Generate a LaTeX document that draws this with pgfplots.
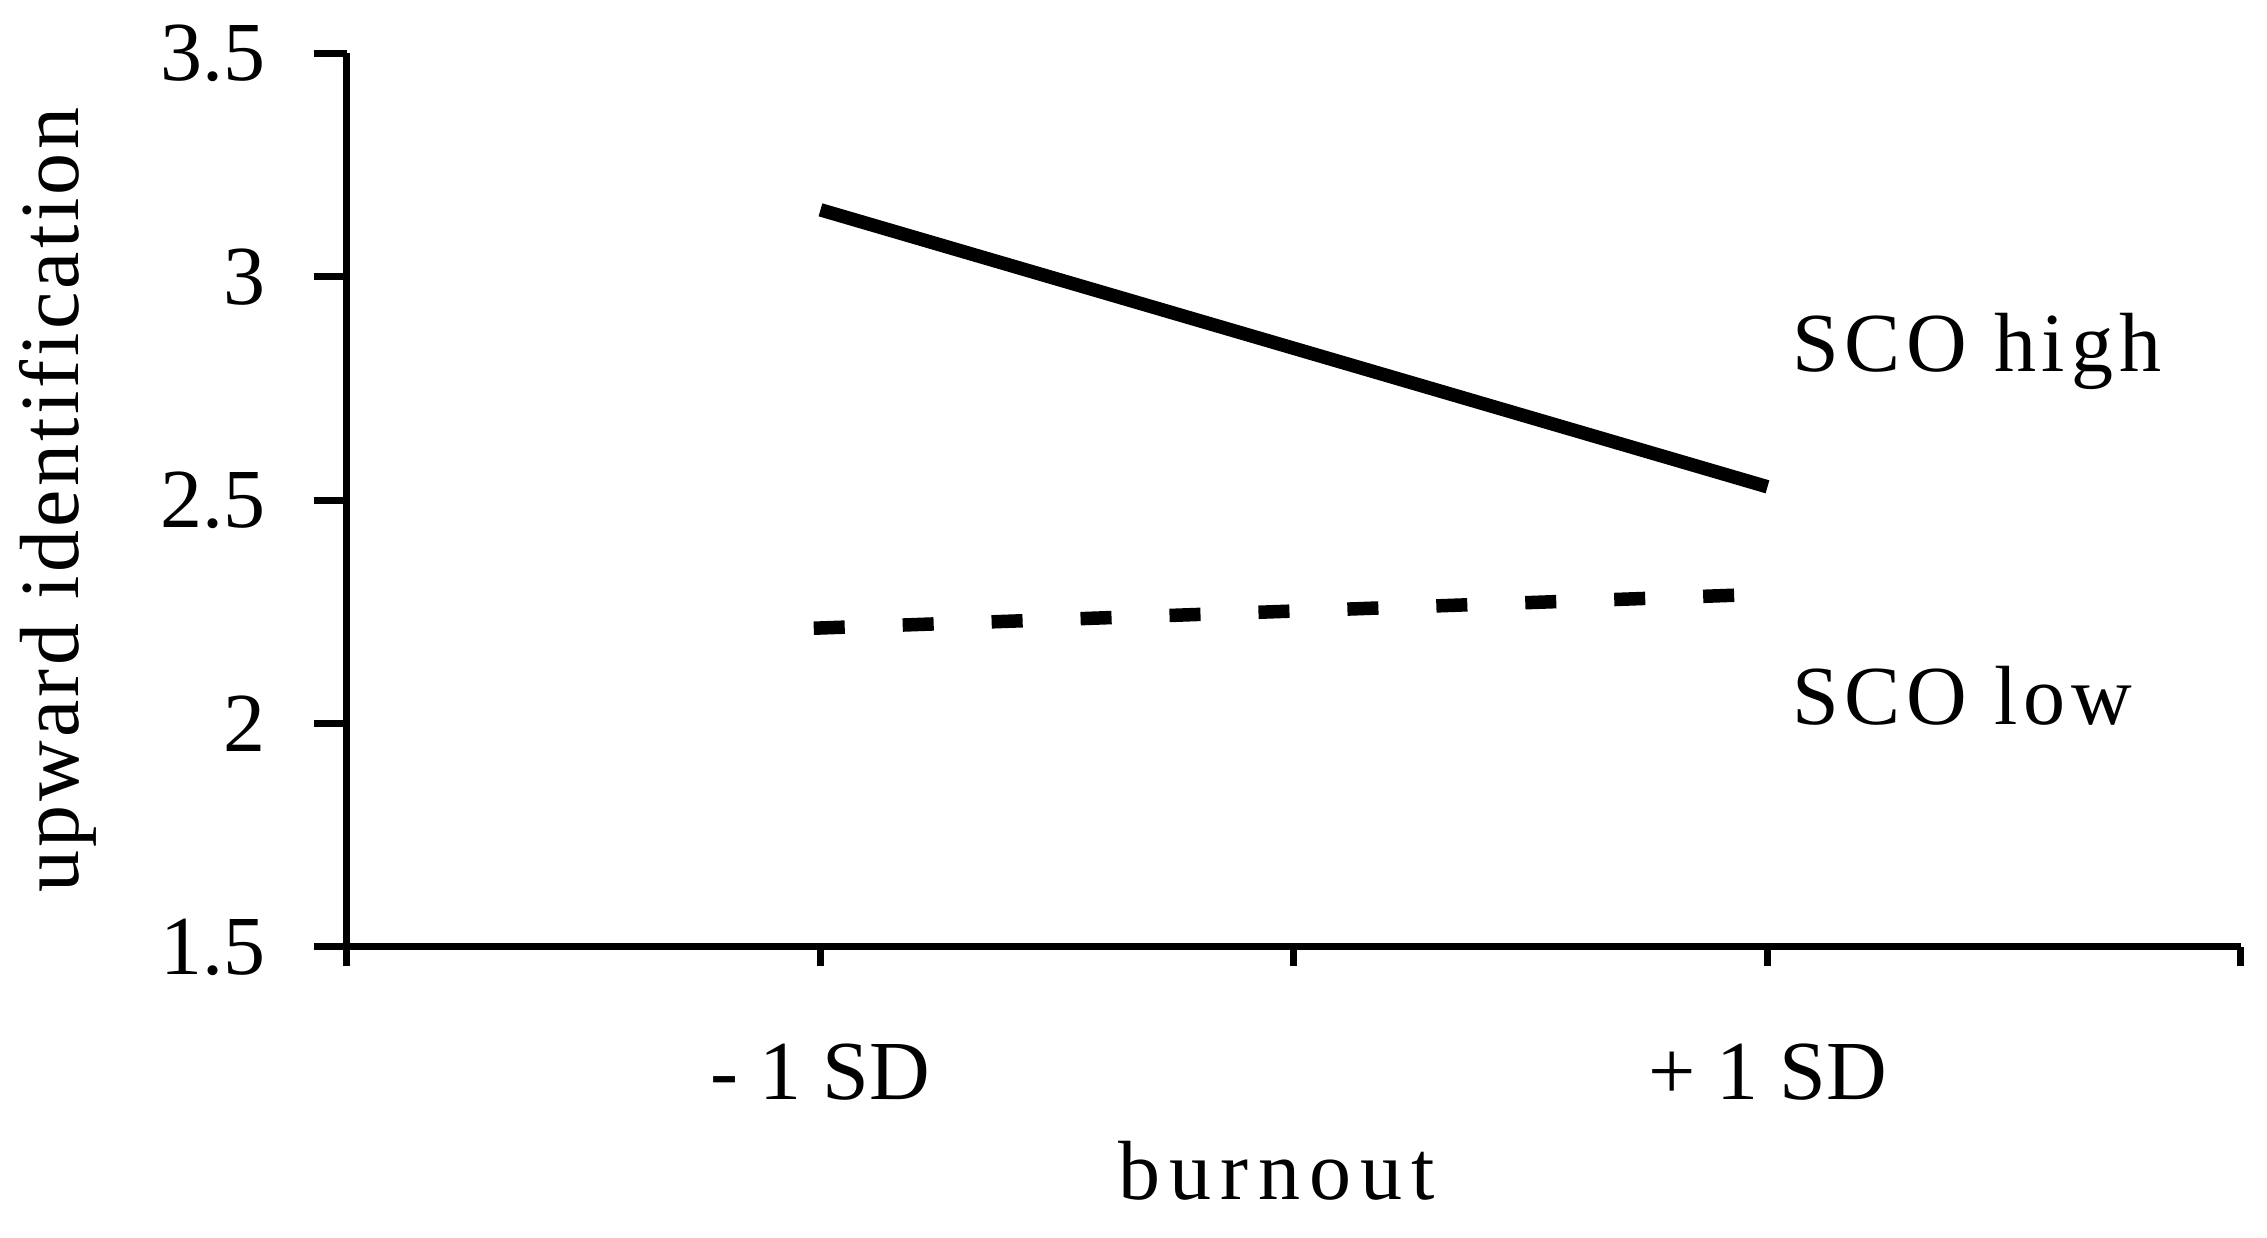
\documentclass[border=0pt]{standalone}
\usepackage{fontspec}
\setmainfont{Liberation Serif}
\newfontfamily\lsB[LetterSpace=11]{Liberation Serif}
\newfontfamily\lsS[LetterSpace=7]{Liberation Serif}
\newfontfamily\lsY[LetterSpace=4]{Liberation Serif}
\usepackage{pgfplots}
\pgfplotsset{compat=1.18}
\begin{document}
\begin{tikzpicture}[font=\fontsize{16.8}{20}\selectfont]
\begin{axis}[
 at={(0,0)},anchor=south west,
 scale only axis,width=378.8pt,height=178.7pt,
 xmin=0,xmax=4,ymin=1.5,ymax=3.5,
 axis x line*=bottom,axis y line*=left,
 axis line style={line width=1.4pt},
 every tick/.style={black,line width=1.4pt},
 tick align=outside,
 major tick length=6.6pt,
 xtick style={/pgfplots/major tick length=3.8pt},
 xtick={0,1,2,3,4},
 xticklabels={,- 1 SD,,+ 1 SD,},
 ytick={1.5,2,2.5,3,3.5},
 /pgf/number format/assume math mode=true,
 yticklabel style={anchor=east,inner sep=0pt,xshift=-9.4pt},
 xticklabel style={anchor=base,inner sep=0pt,yshift=-24pt},
 xlabel={\lsB burnout},
 xlabel style={at={(axis description cs:0.491,0)},anchor=base,yshift=-50.6pt,inner sep=0pt},
 ylabel={\lsY upward identification},
 ylabel style={at={(axis description cs:-0.1526,0.5)},anchor=center},
 clip=false,
]
\addplot[black,line width=2.7pt] coordinates {(1,3.15) (3,2.53)};
\addplot[black,line width=2.7pt,line cap=rect,dash pattern=on 3.5pt off 14.3pt] coordinates {(1,2.214) (3,2.29)};
\node[anchor=base west,inner sep=0pt] at (axis cs:3.05,2.788) {\lsS SCO high};
\node[anchor=base west,inner sep=0pt] at (axis cs:3.05,1.998) {\lsS SCO low};
\end{axis}
\path (-69.4pt,-58.2pt) (384pt,189.4pt);
\end{tikzpicture}
\end{document}
